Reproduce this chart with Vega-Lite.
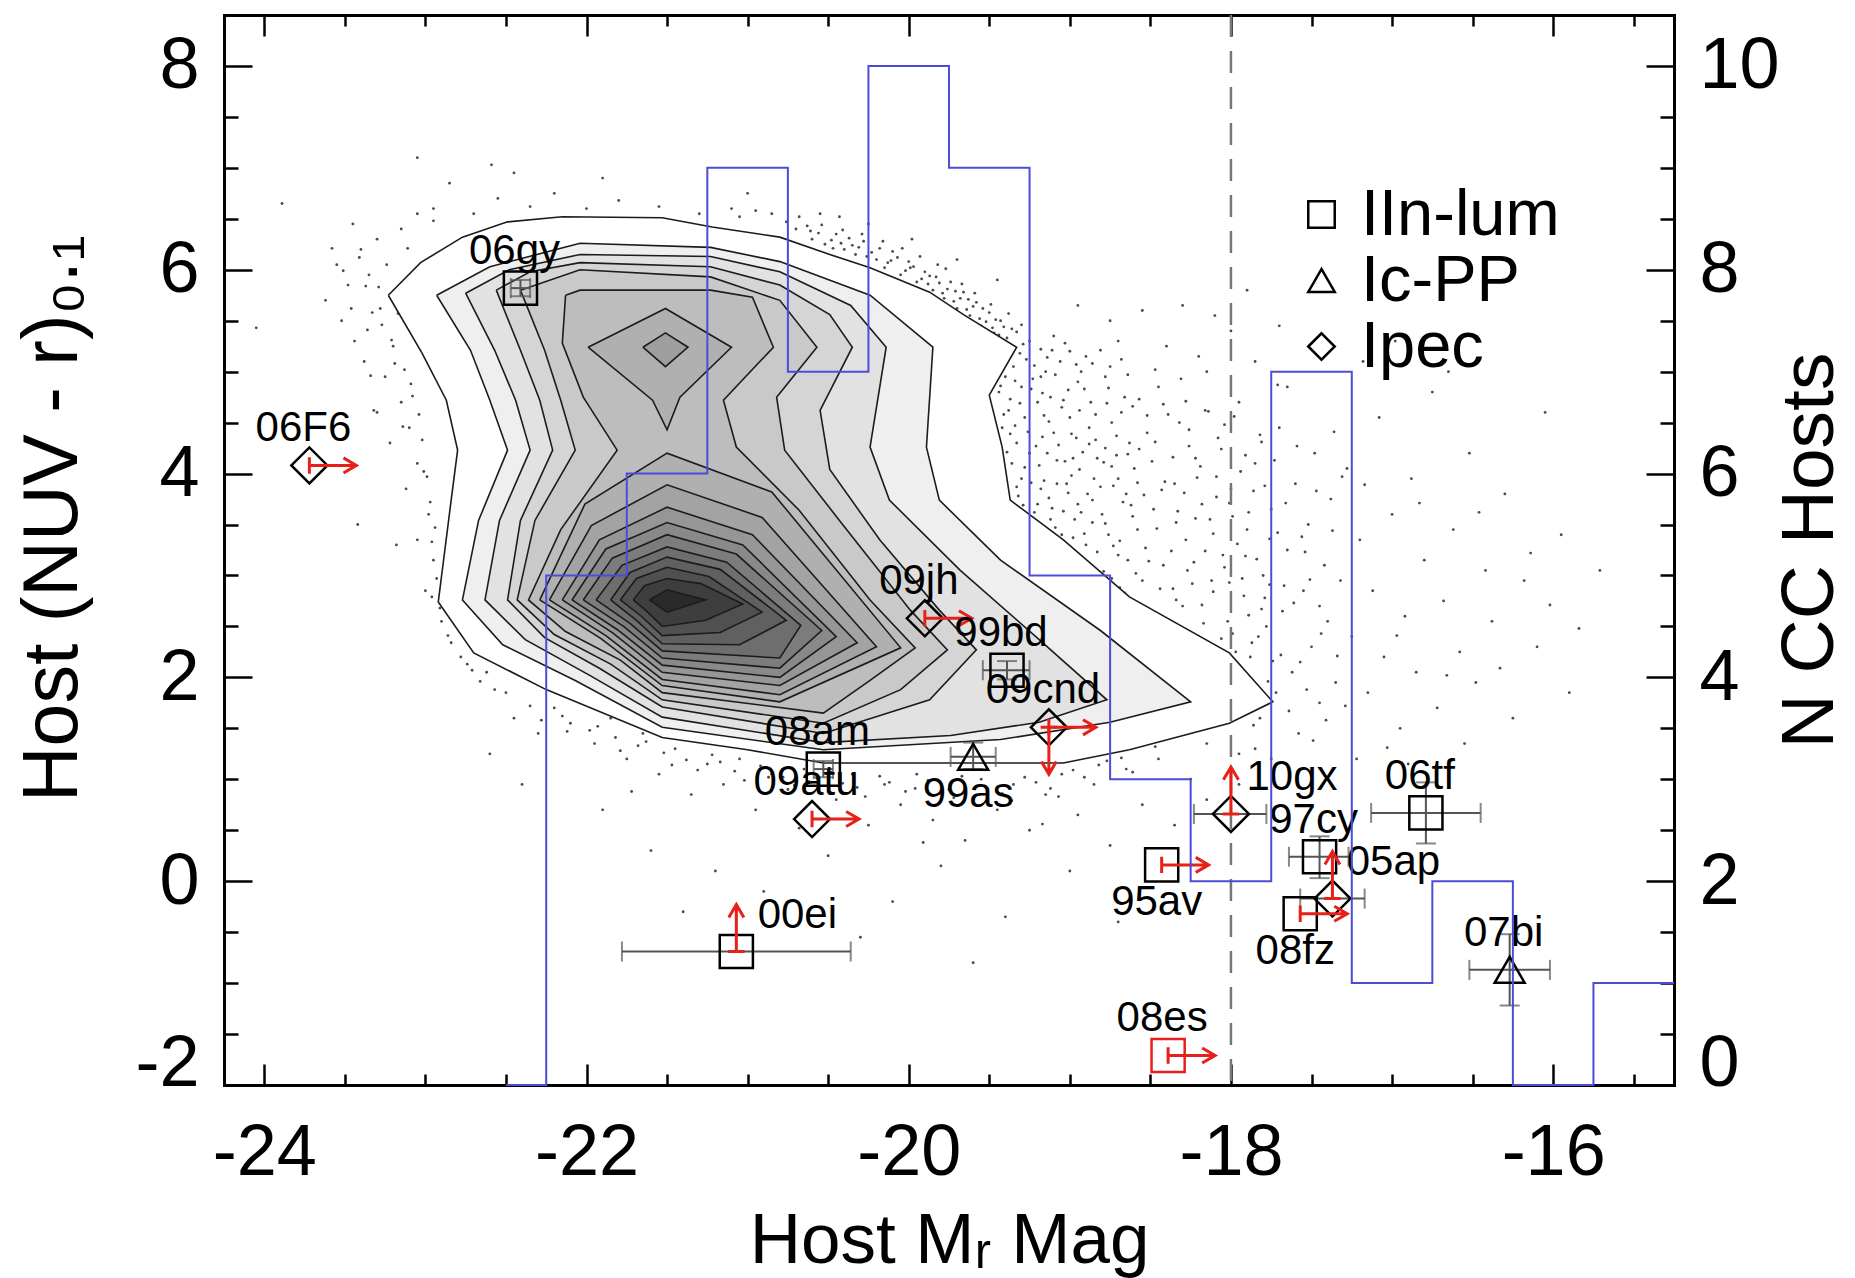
{
  "$schema": "https://vega.github.io/schema/vega-lite/v6.json",
  "width": 1450,
  "height": 1070,
  "autosize": {"type": "none"},
  "padding": {"left": 224, "top": 15, "right": 181, "bottom": 193},
  "background": "white",
  "config": {
    "font": "Liberation Sans",
    "view": {"stroke": null},
    "axis": {"grid": false, "domainColor": "black", "domainWidth": 3, "domainCap": "square", "tickColor": "black", "tickWidth": 2.5, "labelColor": "black", "labelFont": "Liberation Sans", "labelFontSize": 72, "titleColor": "black", "titleFont": "Liberation Sans", "titleFontSize": 77, "titleFontWeight": "normal", "labelOverlap": false, "zindex": 1}
  },
  "datasets": {
    "hist": [
      {"mag": -22.5, "n": 0}, {"mag": -22.25, "n": 5}, {"mag": -21.75, "n": 6}, {"mag": -21.25, "n": 9},
      {"mag": -20.75, "n": 7}, {"mag": -20.25, "n": 10}, {"mag": -19.75, "n": 9}, {"mag": -19.25, "n": 5},
      {"mag": -18.75, "n": 3}, {"mag": -18.25, "n": 2}, {"mag": -17.75, "n": 7}, {"mag": -17.25, "n": 1},
      {"mag": -16.75, "n": 2}, {"mag": -16.25, "n": 0}, {"mag": -15.75, "n": 1}, {"mag": -15.25, "n": 1}
    ],
    "sn": [
      {"sn": "06gy", "type": "IIn-lum", "m": -22.41, "c": 5.82, "pos": "above", "xlo": -22.47, "xhi": -22.35, "ylo": 5.74, "yhi": 5.90},
      {"sn": "06F6", "type": "Ipec", "m": -23.72, "c": 4.08, "pos": "above", "limx": "right"},
      {"sn": "09jh", "type": "Ipec", "m": -19.90, "c": 2.58, "pos": "above", "limx": "right"},
      {"sn": "99bd", "type": "IIn-lum", "m": -19.39, "c": 2.07, "pos": "above", "xlo": -19.54, "xhi": -19.25, "ylo": 1.98, "yhi": 2.16},
      {"sn": "09cnd", "type": "Ipec", "m": -19.13, "c": 1.51, "pos": "above", "limx": "right", "limy": "down"},
      {"sn": "99as", "type": "Ic-PP", "m": -19.60, "c": 1.22, "pos": "below", "xlo": -19.74, "xhi": -19.46, "ylo": 1.10, "yhi": 1.36},
      {"sn": "08am", "type": "IIn-lum", "m": -20.53, "c": 1.10, "pos": "above", "xlo": -20.59, "xhi": -20.47, "ylo": 1.02, "yhi": 1.18},
      {"sn": "09atu", "type": "Ipec", "m": -20.60, "c": 0.61, "pos": "above", "limx": "right"},
      {"sn": "00ei", "type": "IIn-lum", "m": -21.07, "c": -0.69, "pos": "aboveright", "xlo": -21.78, "xhi": -20.36, "limy": "up"},
      {"sn": "10gx", "type": "Ipec", "m": -18.00, "c": 0.66, "pos": "aboveright", "xlo": -18.23, "xhi": -17.78, "limy": "up"},
      {"sn": "97cy", "type": "IIn-lum", "m": -17.45, "c": 0.24, "pos": "above", "xlo": -17.64, "xhi": -17.27, "ylo": 0.03, "yhi": 0.44},
      {"sn": "05ap", "type": "Ipec", "m": -17.37, "c": -0.17, "pos": "aboveright", "xlo": -17.57, "xhi": -17.17, "limy": "up"},
      {"sn": "95av", "type": "IIn-lum", "m": -18.43, "c": 0.16, "pos": "below", "limx": "right"},
      {"sn": "08fz", "type": "IIn-lum", "m": -17.57, "c": -0.32, "pos": "below", "limx": "right"},
      {"sn": "06tf", "type": "IIn-lum", "m": -16.79, "c": 0.67, "pos": "above", "xlo": -17.13, "xhi": -16.45, "ylo": 0.37, "yhi": 0.97},
      {"sn": "07bi", "type": "Ic-PP", "m": -16.27, "c": -0.87, "pos": "above", "xlo": -16.52, "xhi": -16.02, "ylo": -1.22, "yhi": -0.52},
      {"sn": "08es", "type": "IIn-lum", "m": -18.39, "c": -1.71, "pos": "above", "limx": "right"}
    ],
    "contours": [
      {"lev":1,"k":0,"m":-23.23,"c":5.75},{"lev":1,"k":1,"m":-23.03,"c":6.07},{"lev":1,"k":2,"m":-22.77,"c":6.32},{"lev":1,"k":3,"m":-22.49,"c":6.47},{"lev":1,"k":4,"m":-22.15,"c":6.52},{"lev":1,"k":5,"m":-21.53,"c":6.51},{"lev":1,"k":6,"m":-21.22,"c":6.42},{"lev":1,"k":7,"m":-20.80,"c":6.32},{"lev":1,"k":8,"m":-20.49,"c":6.15},{"lev":1,"k":9,"m":-20.24,"c":6.02},{"lev":1,"k":10,"m":-19.87,"c":5.78},{"lev":1,"k":11,"m":-19.66,"c":5.56},{"lev":1,"k":12,"m":-19.33,"c":5.24},{"lev":1,"k":13,"m":-19.50,"c":4.77},{"lev":1,"k":14,"m":-19.42,"c":4.26},{"lev":1,"k":15,"m":-19.37,"c":3.74},{"lev":1,"k":16,"m":-19.04,"c":3.35},{"lev":1,"k":17,"m":-18.63,"c":2.79},{"lev":1,"k":18,"m":-18.01,"c":2.24},{"lev":1,"k":19,"m":-17.74,"c":1.76},{"lev":1,"k":20,"m":-18.01,"c":1.55},{"lev":1,"k":21,"m":-18.63,"c":1.29},{"lev":1,"k":22,"m":-19.04,"c":1.16},{"lev":1,"k":23,"m":-19.74,"c":1.16},{"lev":1,"k":24,"m":-20.53,"c":1.16},{"lev":1,"k":25,"m":-21.00,"c":1.29},{"lev":1,"k":26,"m":-21.53,"c":1.41},{"lev":1,"k":27,"m":-22.25,"c":1.88},{"lev":1,"k":28,"m":-22.70,"c":2.24},{"lev":1,"k":29,"m":-22.92,"c":2.74},{"lev":1,"k":30,"m":-22.84,"c":3.74},{"lev":1,"k":31,"m":-22.80,"c":4.23},{"lev":1,"k":32,"m":-22.87,"c":4.72},{"lev":1,"k":33,"m":-23.02,"c":5.18},{"lev":1,"k":34,"m":-23.23,"c":5.75},
      {"lev":2,"k":0,"m":-22.93,"c":5.75},{"lev":2,"k":1,"m":-22.60,"c":6.03},{"lev":2,"k":2,"m":-22.04,"c":6.26},{"lev":2,"k":3,"m":-21.23,"c":6.22},{"lev":2,"k":4,"m":-20.80,"c":6.08},{"lev":2,"k":5,"m":-20.24,"c":5.75},{"lev":2,"k":6,"m":-19.85,"c":5.24},{"lev":2,"k":7,"m":-19.89,"c":4.26},{"lev":2,"k":8,"m":-19.81,"c":3.74},{"lev":2,"k":9,"m":-19.43,"c":3.15},{"lev":2,"k":10,"m":-18.81,"c":2.46},{"lev":2,"k":11,"m":-18.25,"c":1.76},{"lev":2,"k":12,"m":-18.75,"c":1.56},{"lev":2,"k":13,"m":-19.43,"c":1.39},{"lev":2,"k":14,"m":-20.53,"c":1.29},{"lev":2,"k":15,"m":-21.53,"c":1.51},{"lev":2,"k":16,"m":-22.07,"c":1.97},{"lev":2,"k":17,"m":-22.52,"c":2.32},{"lev":2,"k":18,"m":-22.77,"c":2.76},{"lev":2,"k":19,"m":-22.67,"c":3.54},{"lev":2,"k":20,"m":-22.49,"c":4.23},{"lev":2,"k":21,"m":-22.60,"c":4.72},{"lev":2,"k":22,"m":-22.72,"c":5.21},{"lev":2,"k":23,"m":-22.93,"c":5.75},
      {"lev":3,"k":0,"m":-22.75,"c":5.77},{"lev":3,"k":1,"m":-22.48,"c":6.00},{"lev":3,"k":2,"m":-22.04,"c":6.15},{"lev":3,"k":3,"m":-21.23,"c":6.13},{"lev":3,"k":4,"m":-20.80,"c":5.98},{"lev":3,"k":5,"m":-20.36,"c":5.65},{"lev":3,"k":6,"m":-20.14,"c":5.24},{"lev":3,"k":7,"m":-20.24,"c":4.26},{"lev":3,"k":8,"m":-20.12,"c":3.74},{"lev":3,"k":9,"m":-19.68,"c":3.05},{"lev":3,"k":10,"m":-19.19,"c":2.37},{"lev":3,"k":11,"m":-18.77,"c":1.78},{"lev":3,"k":12,"m":-19.19,"c":1.56},{"lev":3,"k":13,"m":-19.74,"c":1.43},{"lev":3,"k":14,"m":-20.53,"c":1.36},{"lev":3,"k":15,"m":-21.53,"c":1.61},{"lev":3,"k":16,"m":-21.98,"c":2.02},{"lev":3,"k":17,"m":-22.38,"c":2.37},{"lev":3,"k":18,"m":-22.63,"c":2.76},{"lev":3,"k":19,"m":-22.54,"c":3.54},{"lev":3,"k":20,"m":-22.35,"c":4.23},{"lev":3,"k":21,"m":-22.44,"c":4.72},{"lev":3,"k":22,"m":-22.57,"c":5.21},{"lev":3,"k":23,"m":-22.75,"c":5.77},
      {"lev":4,"k":0,"m":-22.56,"c":5.80},{"lev":4,"k":1,"m":-22.35,"c":5.98},{"lev":4,"k":2,"m":-22.04,"c":6.07},{"lev":4,"k":3,"m":-21.23,"c":6.03},{"lev":4,"k":4,"m":-20.80,"c":5.85},{"lev":4,"k":5,"m":-20.49,"c":5.56},{"lev":4,"k":6,"m":-20.35,"c":5.24},{"lev":4,"k":7,"m":-20.55,"c":4.62},{"lev":4,"k":8,"m":-20.49,"c":4.04},{"lev":4,"k":9,"m":-20.18,"c":3.35},{"lev":4,"k":10,"m":-19.81,"c":2.66},{"lev":4,"k":11,"m":-19.58,"c":2.27},{"lev":4,"k":12,"m":-19.87,"c":1.78},{"lev":4,"k":13,"m":-20.53,"c":1.45},{"lev":4,"k":14,"m":-21.53,"c":1.71},{"lev":4,"k":15,"m":-21.92,"c":2.09},{"lev":4,"k":16,"m":-22.26,"c":2.39},{"lev":4,"k":17,"m":-22.49,"c":2.76},{"lev":4,"k":18,"m":-22.41,"c":3.54},{"lev":4,"k":19,"m":-22.21,"c":4.23},{"lev":4,"k":20,"m":-22.29,"c":4.72},{"lev":4,"k":21,"m":-22.41,"c":5.21},{"lev":4,"k":22,"m":-22.56,"c":5.80},
      {"lev":5,"k":0,"m":-22.41,"c":5.80},{"lev":5,"k":1,"m":-22.04,"c":6.00},{"lev":5,"k":2,"m":-21.23,"c":5.93},{"lev":5,"k":3,"m":-20.80,"c":5.70},{"lev":5,"k":4,"m":-20.57,"c":5.24},{"lev":5,"k":5,"m":-20.82,"c":4.75},{"lev":5,"k":6,"m":-20.77,"c":4.23},{"lev":5,"k":7,"m":-20.43,"c":3.54},{"lev":5,"k":8,"m":-19.99,"c":2.66},{"lev":5,"k":9,"m":-19.76,"c":2.27},{"lev":5,"k":10,"m":-20.05,"c":1.88},{"lev":5,"k":11,"m":-20.53,"c":1.55},{"lev":5,"k":12,"m":-21.53,"c":1.78},{"lev":5,"k":13,"m":-21.85,"c":2.13},{"lev":5,"k":14,"m":-22.20,"c":2.42},{"lev":5,"k":15,"m":-22.43,"c":2.76},{"lev":5,"k":16,"m":-22.32,"c":3.54},{"lev":5,"k":17,"m":-22.07,"c":4.23},{"lev":5,"k":18,"m":-22.16,"c":4.72},{"lev":5,"k":19,"m":-22.26,"c":5.21},{"lev":5,"k":20,"m":-22.41,"c":5.80},
      {"lev":6,"k":0,"m":-22.13,"c":5.75},{"lev":6,"k":1,"m":-22.04,"c":5.80},{"lev":6,"k":2,"m":-21.23,"c":5.80},{"lev":6,"k":3,"m":-20.97,"c":5.73},{"lev":6,"k":4,"m":-20.84,"c":5.24},{"lev":6,"k":5,"m":-21.15,"c":4.72},{"lev":6,"k":6,"m":-21.07,"c":4.26},{"lev":6,"k":7,"m":-20.68,"c":3.64},{"lev":6,"k":8,"m":-20.24,"c":2.76},{"lev":6,"k":9,"m":-19.96,"c":2.29},{"lev":6,"k":10,"m":-20.24,"c":1.97},{"lev":6,"k":11,"m":-20.53,"c":1.65},{"lev":6,"k":12,"m":-21.53,"c":1.85},{"lev":6,"k":13,"m":-21.79,"c":2.17},{"lev":6,"k":14,"m":-22.13,"c":2.45},{"lev":6,"k":15,"m":-22.36,"c":2.76},{"lev":6,"k":16,"m":-22.16,"c":3.45},{"lev":6,"k":17,"m":-21.81,"c":4.23},{"lev":6,"k":18,"m":-22.02,"c":4.75},{"lev":6,"k":19,"m":-22.15,"c":5.28},{"lev":6,"k":20,"m":-22.13,"c":5.75},
      {"lev":7,"k":0,"m":-22.29,"c":2.76},{"lev":7,"k":1,"m":-22.01,"c":3.70},{"lev":7,"k":2,"m":-21.50,"c":4.20},{"lev":7,"k":3,"m":-20.85,"c":3.82},{"lev":7,"k":4,"m":-20.05,"c":2.29},{"lev":7,"k":5,"m":-20.80,"c":1.76},{"lev":7,"k":6,"m":-21.53,"c":1.92},{"lev":7,"k":7,"m":-21.91,"c":2.38},{"lev":7,"k":8,"m":-22.29,"c":2.76},
      {"lev":8,"k":0,"m":-22.23,"c":2.76},{"lev":8,"k":1,"m":-21.97,"c":3.49},{"lev":8,"k":2,"m":-21.50,"c":3.89},{"lev":8,"k":3,"m":-20.91,"c":3.57},{"lev":8,"k":4,"m":-20.20,"c":2.30},{"lev":8,"k":5,"m":-20.80,"c":1.83},{"lev":8,"k":6,"m":-21.53,"c":1.98},{"lev":8,"k":7,"m":-21.88,"c":2.41},{"lev":8,"k":8,"m":-22.23,"c":2.76},
      {"lev":9,"k":0,"m":-22.15,"c":2.76},{"lev":9,"k":1,"m":-21.92,"c":3.35},{"lev":9,"k":2,"m":-21.50,"c":3.67},{"lev":9,"k":3,"m":-20.97,"c":3.40},{"lev":9,"k":4,"m":-20.32,"c":2.34},{"lev":9,"k":5,"m":-20.80,"c":1.92},{"lev":9,"k":6,"m":-21.53,"c":2.05},{"lev":9,"k":7,"m":-21.84,"c":2.44},{"lev":9,"k":8,"m":-22.15,"c":2.76},
      {"lev":10,"k":0,"m":-22.09,"c":2.76},{"lev":10,"k":1,"m":-21.88,"c":3.26},{"lev":10,"k":2,"m":-21.50,"c":3.52},{"lev":10,"k":3,"m":-21.03,"c":3.30},{"lev":10,"k":4,"m":-20.45,"c":2.40},{"lev":10,"k":5,"m":-20.80,"c":2.00},{"lev":10,"k":6,"m":-21.53,"c":2.12},{"lev":10,"k":7,"m":-21.81,"c":2.47},{"lev":10,"k":8,"m":-22.09,"c":2.76},
      {"lev":11,"k":0,"m":-22.02,"c":2.76},{"lev":11,"k":1,"m":-21.84,"c":3.17},{"lev":11,"k":2,"m":-21.50,"c":3.40},{"lev":11,"k":3,"m":-21.07,"c":3.21},{"lev":11,"k":4,"m":-20.54,"c":2.46},{"lev":11,"k":5,"m":-20.80,"c":2.09},{"lev":11,"k":6,"m":-21.53,"c":2.19},{"lev":11,"k":7,"m":-21.77,"c":2.50},{"lev":11,"k":8,"m":-22.02,"c":2.76},
      {"lev":12,"k":0,"m":-21.94,"c":2.76},{"lev":12,"k":1,"m":-21.78,"c":3.10},{"lev":12,"k":2,"m":-21.50,"c":3.28},{"lev":12,"k":3,"m":-21.13,"c":3.13},{"lev":12,"k":4,"m":-20.67,"c":2.51},{"lev":12,"k":5,"m":-20.80,"c":2.19},{"lev":12,"k":6,"m":-21.53,"c":2.26},{"lev":12,"k":7,"m":-21.73,"c":2.53},{"lev":12,"k":8,"m":-21.94,"c":2.76},
      {"lev":13,"k":0,"m":-21.85,"c":2.76},{"lev":13,"k":1,"m":-21.73,"c":3.03},{"lev":13,"k":2,"m":-21.50,"c":3.18},{"lev":13,"k":3,"m":-21.17,"c":3.06},{"lev":13,"k":4,"m":-20.76,"c":2.56},{"lev":13,"k":5,"m":-21.05,"c":2.32},{"lev":13,"k":6,"m":-21.53,"c":2.33},{"lev":13,"k":7,"m":-21.69,"c":2.56},{"lev":13,"k":8,"m":-21.85,"c":2.76},
      {"lev":14,"k":0,"m":-21.79,"c":2.76},{"lev":14,"k":1,"m":-21.69,"c":2.97},{"lev":14,"k":2,"m":-21.50,"c":3.08},{"lev":14,"k":3,"m":-21.24,"c":2.99},{"lev":14,"k":4,"m":-20.91,"c":2.64},{"lev":14,"k":5,"m":-21.17,"c":2.44},{"lev":14,"k":6,"m":-21.53,"c":2.41},{"lev":14,"k":7,"m":-21.66,"c":2.60},{"lev":14,"k":8,"m":-21.79,"c":2.76},
      {"lev":15,"k":0,"m":-21.71,"c":2.76},{"lev":15,"k":1,"m":-21.64,"c":2.90},{"lev":15,"k":2,"m":-21.50,"c":2.97},{"lev":15,"k":3,"m":-21.29,"c":2.92},{"lev":15,"k":4,"m":-21.03,"c":2.72},{"lev":15,"k":5,"m":-21.26,"c":2.56},{"lev":15,"k":6,"m":-21.53,"c":2.50},{"lev":15,"k":7,"m":-21.62,"c":2.64},{"lev":15,"k":8,"m":-21.71,"c":2.76},
      {"lev":16,"k":0,"m":-21.61,"c":2.76},{"lev":16,"k":1,"m":-21.50,"c":2.86},{"lev":16,"k":2,"m":-21.26,"c":2.76},{"lev":16,"k":3,"m":-21.50,"c":2.64},{"lev":16,"k":4,"m":-21.61,"c":2.76},
      {"lev":17,"k":0,"m":-21.99,"c":5.24},{"lev":17,"k":1,"m":-21.51,"c":5.62},{"lev":17,"k":2,"m":-21.10,"c":5.24},{"lev":17,"k":3,"m":-21.42,"c":4.75},{"lev":17,"k":4,"m":-21.50,"c":4.43},{"lev":17,"k":5,"m":-21.59,"c":4.72},{"lev":17,"k":6,"m":-21.99,"c":5.24},
      {"lev":18,"k":0,"m":-21.65,"c":5.24},{"lev":18,"k":1,"m":-21.51,"c":5.38},{"lev":18,"k":2,"m":-21.37,"c":5.24},{"lev":18,"k":3,"m":-21.51,"c":5.05},{"lev":18,"k":4,"m":-21.65,"c":5.24}
    ],
    "dots": [
      {"m":-23.89,"c":6.65},{"m":-24.05,"c":5.43},{"m":-23.55,"c":6.05},{"m":-23.48,"c":5.85},{"m":-23.62,"c":5.70},{"m":-23.40,"c":6.20},{"m":-23.35,"c":5.95},{"m":-23.30,"c":6.30},{"m":-23.52,"c":5.50},{"m":-23.44,"c":5.30},{"m":-23.38,"c":5.10},{"m":-23.25,"c":4.95},{"m":-23.20,"c":5.25},{"m":-23.15,"c":4.70},{"m":-23.10,"c":4.45},{"m":-23.22,"c":4.30},{"m":-23.05,"c":4.10},{"m":-23.12,"c":3.85},{"m":-22.98,"c":3.60},{"m":-23.05,"c":3.35},{"m":-22.95,"c":3.15},{"m":-23.00,"c":2.85},{"m":-23.18,"c":3.30},{"m":-23.30,"c":4.60},{"m":-23.42,"c":3.50},{"m":-22.90,"c":2.55},{"m":-22.78,"c":2.20},{"m":-22.62,"c":2.05},{"m":-22.50,"c":1.85},{"m":-23.45,"c":6.45},{"m":-23.15,"c":6.40},{"m":-23.05,"c":6.55},{"m":-22.95,"c":6.48},{"m":-22.59,"c":7.03},{"m":-23.14,"c":4.46},{"m":-23.32,"c":4.62},
      {"m":-23.28,"c":5.62},{"m":-23.36,"c":5.41},{"m":-23.19,"c":5.08},{"m":-23.09,"c":4.88},{"m":-23.01,"c":4.02},{"m":-22.96,"c":3.33},{"m":-22.93,"c":2.97},{"m":-22.86,"c":2.41},{"m":-22.71,"c":2.07},{"m":-23.58,"c":6.21},
      {"m":-23.41,"c":6.12},{"m":-23.37,"c":5.84},{"m":-23.33,"c":5.58},{"m":-23.29,"c":5.83},{"m":-23.27,"c":5.46},{"m":-23.24,"c":6.05},{"m":-23.21,"c":5.31},{"m":-23.17,"c":5.57},{"m":-23.13,"c":5.02},{"m":-23.11,"c":6.21},{"m":-23.08,"c":4.76},{"m":-23.04,"c":4.58},{"m":-23.02,"c":4.33},{"m":-22.99,"c":3.97},{"m":-22.97,"c":3.72},{"m":-22.94,"c":3.47},{"m":-22.96,"c":2.79},{"m":-22.91,"c":2.68},{"m":-22.84,"c":2.34},{"m":-22.74,"c":2.13},{"m":-22.66,"c":1.96},{"m":-22.57,"c":1.88},{"m":-23.51,"c":5.99},{"m":-23.46,"c":5.62},{"m":-23.34,"c":4.96},
      {"m":-22.95,"c":6.60},{"m":-22.70,"c":6.55},{"m":-22.55,"c":6.70},{"m":-22.35,"c":6.62},{"m":-22.20,"c":6.75},{"m":-22.00,"c":6.60},{"m":-21.80,"c":6.68},{"m":-21.55,"c":6.62},{"m":-21.30,"c":6.55},{"m":-21.05,"c":6.52},{"m":-22.85,"c":6.85},{"m":-21.90,"c":6.90},{"m":-21.00,"c":6.75},{"m":-22.45,"c":6.95},{"m":-23.05,"c":7.10},
      {"m":-20.70,"c":6.40},{"m":-20.60,"c":6.30},{"m":-20.52,"c":6.25},{"m":-20.45,"c":6.35},{"m":-20.40,"c":6.20},{"m":-20.33,"c":6.15},{"m":-20.28,"c":6.28},{"m":-20.20,"c":6.10},{"m":-20.15,"c":6.02},{"m":-20.10,"c":6.18},{"m":-20.05,"c":5.95},{"m":-20.00,"c":6.08},{"m":-19.95,"c":5.88},{"m":-19.90,"c":5.98},{"m":-19.85,"c":5.80},{"m":-19.82,"c":6.05},{"m":-19.78,"c":5.72},{"m":-19.74,"c":5.88},{"m":-19.70,"c":5.62},{"m":-19.66,"c":5.78},{"m":-19.62,"c":5.55},{"m":-19.58,"c":5.68},{"m":-19.55,"c":5.45},{"m":-19.50,"c":5.58},{"m":-19.47,"c":5.38},{"m":-19.43,"c":5.50},{"m":-19.40,"c":5.30},{"m":-19.36,"c":5.42},{"m":-20.55,"c":6.55},{"m":-20.25,"c":6.45},{"m":-19.98,"c":6.30},{"m":-19.70,"c":6.10},{"m":-19.45,"c":5.90},{"m":-20.85,"c":6.55},{"m":-21.10,"c":6.60},
      {"m":-20.63,"c":6.43},{"m":-20.56,"c":6.36},{"m":-20.48,"c":6.29},{"m":-20.42,"c":6.26},{"m":-20.37,"c":6.31},{"m":-20.31,"c":6.22},{"m":-20.26,"c":6.13},{"m":-20.18,"c":6.21},{"m":-20.13,"c":6.07},{"m":-20.07,"c":6.12},{"m":-20.02,"c":5.99},{"m":-19.97,"c":6.03},{"m":-19.92,"c":5.91},{"m":-19.88,"c":5.86},{"m":-19.83,"c":5.93},{"m":-19.79,"c":5.77},{"m":-19.76,"c":5.81},{"m":-19.72,"c":5.69},{"m":-19.68,"c":5.72},{"m":-19.64,"c":5.61},{"m":-19.60,"c":5.64},{"m":-19.56,"c":5.52},{"m":-19.52,"c":5.49},{"m":-19.48,"c":5.43},{"m":-19.44,"c":5.36},
      {"m":-20.76,"c":6.47},{"m":-20.68,"c":6.52},{"m":-20.61,"c":6.38},{"m":-20.54,"c":6.44},{"m":-20.47,"c":6.21},{"m":-20.41,"c":6.39},{"m":-20.35,"c":6.24},{"m":-20.29,"c":6.35},{"m":-20.23,"c":6.17},{"m":-20.16,"c":6.28},{"m":-20.11,"c":6.09},{"m":-20.04,"c":6.21},{"m":-19.99,"c":6.02},{"m":-19.93,"c":6.13},{"m":-19.87,"c":5.94},{"m":-19.81,"c":5.87},{"m":-19.77,"c":6.01},{"m":-19.71,"c":5.79},{"m":-19.67,"c":5.86},{"m":-19.63,"c":5.71},{"m":-19.59,"c":5.77},{"m":-19.54,"c":5.62},{"m":-19.49,"c":5.66},{"m":-19.46,"c":5.51},{"m":-19.41,"c":5.44},{"m":-19.38,"c":5.57},{"m":-19.33,"c":5.39},{"m":-19.30,"c":5.46},{"m":-20.95,"c":6.58},{"m":-20.43,"c":6.52},
      {"m":-19.45,"c":5.15},{"m":-19.40,"c":4.95},{"m":-19.35,"c":5.05},{"m":-19.44,"c":4.80},{"m":-19.38,"c":4.62},{"m":-19.30,"c":4.85},{"m":-19.42,"c":4.45},{"m":-19.33,"c":4.30},{"m":-19.28,"c":4.55},{"m":-19.36,"c":4.10},{"m":-19.30,"c":3.95},{"m":-19.25,"c":4.20},{"m":-19.32,"c":3.78},{"m":-19.22,"c":3.62},{"m":-19.27,"c":3.45},{"m":-19.18,"c":3.85},{"m":-19.15,"c":3.30},{"m":-19.12,"c":3.55},{"m":-19.08,"c":3.15},{"m":-19.05,"c":3.40},{"m":-19.20,"c":4.70},{"m":-19.15,"c":5.00},{"m":-19.10,"c":4.40},{"m":-19.05,"c":4.65},{"m":-19.02,"c":3.90},{"m":-18.98,"c":4.15},{"m":-18.95,"c":3.70},{"m":-18.92,"c":2.95},{"m":-18.90,"c":3.30},{"m":-18.95,"c":4.90},{"m":-19.00,"c":5.20},{"m":-18.88,"c":4.45},{"m":-18.85,"c":3.95},{"m":-18.82,"c":2.75},{"m":-18.80,"c":3.60},{"m":-18.78,"c":4.25},{"m":-18.75,"c":5.05},{"m":-18.72,"c":2.60},{"m":-18.70,"c":3.20},{"m":-18.68,"c":4.60},{"m":-18.65,"c":3.80},{"m":-18.62,"c":2.45},{"m":-18.60,"c":4.05},{"m":-18.58,"c":3.45},{"m":-18.55,"c":2.95},{"m":-18.52,"c":4.40},{"m":-18.50,"c":2.30},{"m":-18.48,"c":3.65},{"m":-18.45,"c":4.85},{"m":-18.42,"c":3.10},{"m":-19.25,"c":5.30},{"m":-19.10,"c":5.35},{"m":-18.90,"c":5.15},{"m":-18.70,"c":5.30},
      {"m":-19.41,"c":5.07},{"m":-19.37,"c":4.73},{"m":-19.31,"c":5.18},{"m":-19.26,"c":4.41},{"m":-19.23,"c":4.93},{"m":-19.19,"c":4.08},{"m":-19.16,"c":4.57},{"m":-19.13,"c":3.76},{"m":-19.11,"c":5.21},{"m":-19.07,"c":4.28},{"m":-19.04,"c":3.63},{"m":-19.01,"c":4.82},{"m":-18.99,"c":3.98},{"m":-18.94,"c":4.62},{"m":-18.91,"c":3.41},{"m":-18.86,"c":5.08},{"m":-18.84,"c":4.33},{"m":-18.81,"c":3.87},{"m":-18.77,"c":4.69},{"m":-18.73,"c":3.29},{"m":-18.71,"c":4.18},{"m":-18.67,"c":3.72},{"m":-18.64,"c":4.97},{"m":-18.61,"c":3.58},{"m":-19.34,"c":4.47},{"m":-19.29,"c":3.69},{"m":-19.21,"c":3.33},{"m":-19.17,"c":4.36},{"m":-19.09,"c":3.47},{"m":-19.03,"c":4.12},{"m":-18.97,"c":3.15},{"m":-18.92,"c":4.21},{"m":-18.86,"c":3.52},{"m":-18.79,"c":3.04},{"m":-18.74,"c":4.07},{"m":-18.69,"c":2.88},{"m":-19.39,"c":4.21},{"m":-19.35,"c":3.58},{"m":-19.24,"c":3.91},{"m":-19.18,"c":4.95},
      {"m":-19.12,"c":4.75},{"m":-19.06,"c":5.10},{"m":-19.00,"c":4.55},{"m":-18.96,"c":4.35},{"m":-18.93,"c":5.00},{"m":-18.87,"c":4.70},{"m":-18.83,"c":4.15},{"m":-18.78,"c":4.95},{"m":-18.74,"c":4.50},{"m":-18.70,"c":3.95},{"m":-18.66,"c":4.75},{"m":-18.63,"c":4.30},{"m":-19.14,"c":4.20},{"m":-19.08,"c":3.90},{"m":-19.20,"c":3.70},{"m":-18.97,"c":3.55},{"m":-18.89,"c":3.80},{"m":-18.76,"c":3.40},{"m":-18.64,"c":3.15},
      {"m":-19.46,"c":5.24},{"m":-19.43,"c":4.86},{"m":-19.41,"c":4.58},{"m":-19.39,"c":5.33},{"m":-19.37,"c":4.39},{"m":-19.34,"c":4.91},{"m":-19.33,"c":3.87},{"m":-19.31,"c":4.69},{"m":-19.29,"c":5.27},{"m":-19.28,"c":4.06},{"m":-19.26,"c":3.56},{"m":-19.24,"c":4.83},{"m":-19.22,"c":5.06},{"m":-19.21,"c":4.27},{"m":-19.19,"c":3.48},{"m":-19.17,"c":4.79},{"m":-19.16,"c":3.93},{"m":-19.14,"c":5.14},{"m":-19.13,"c":4.51},{"m":-19.11,"c":3.66},{"m":-19.09,"c":4.97},{"m":-19.08,"c":4.13},{"m":-19.06,"c":3.28},{"m":-19.04,"c":4.72},{"m":-19.03,"c":5.28},{"m":-19.01,"c":3.81},{"m":-18.99,"c":4.39},{"m":-18.98,"c":3.37},{"m":-18.96,"c":5.07},{"m":-18.94,"c":4.04},{"m":-18.93,"c":3.62},{"m":-18.91,"c":4.83},{"m":-18.89,"c":3.09},{"m":-18.88,"c":4.29},{"m":-18.86,"c":3.74},{"m":-18.84,"c":4.58},{"m":-18.83,"c":3.23},{"m":-18.81,"c":5.21},{"m":-18.79,"c":4.11},{"m":-18.78,"c":3.51},{"m":-18.76,"c":4.84},{"m":-18.74,"c":2.97},{"m":-18.73,"c":3.88},{"m":-18.71,"c":4.37},{"m":-18.69,"c":3.34},{"m":-18.68,"c":5.12},{"m":-18.66,"c":2.83},{"m":-18.64,"c":4.19},{"m":-18.62,"c":3.69},{"m":-18.61,"c":4.66},{"m":-18.59,"c":3.02},{"m":-18.57,"c":4.24},{"m":-18.56,"c":2.71},{"m":-18.54,"c":3.79},{"m":-18.52,"c":4.57},{"m":-18.51,"c":3.14},{"m":-18.49,"c":2.58},{"m":-18.47,"c":4.31},{"m":-18.46,"c":3.46},{"m":-18.44,"c":2.87},{"m":-18.42,"c":4.68},{"m":-18.41,"c":3.92},{"m":-18.39,"c":2.52},{"m":-18.37,"c":3.24},{"m":-18.36,"c":4.16},{"m":-18.34,"c":2.76},{"m":-18.33,"c":3.63},{"m":-18.31,"c":2.46},{"m":-19.27,"c":5.12},{"m":-19.18,"c":5.22},
      {"m":-18.57,"c":4.73},{"m":-18.53,"c":3.27},{"m":-18.49,"c":4.12},{"m":-18.46,"c":2.62},{"m":-18.43,"c":3.84},{"m":-18.39,"c":4.58},{"m":-18.36,"c":2.87},{"m":-18.34,"c":3.52},{"m":-18.31,"c":4.93},{"m":-18.29,"c":2.23},{"m":-18.26,"c":4.27},{"m":-18.23,"c":3.13},{"m":-18.21,"c":3.96},{"m":-18.18,"c":2.71},{"m":-18.16,"c":4.62},{"m":-18.14,"c":2.09},{"m":-18.11,"c":3.41},{"m":-18.09,"c":3.77},{"m":-18.06,"c":2.38},{"m":-18.04,"c":4.48},{"m":-18.01,"c":2.93},{"m":-17.99,"c":3.58},{"m":-17.96,"c":2.12},{"m":-17.94,"c":4.02},{"m":-17.91,"c":3.19},{"m":-17.89,"c":2.61},{"m":-17.86,"c":3.83},{"m":-17.84,"c":1.92},{"m":-17.81,"c":4.31},{"m":-17.79,"c":2.78},{"m":-17.76,"c":3.36},{"m":-17.74,"c":2.16},{"m":-18.52,"c":2.18},{"m":-18.41,"c":2.41},{"m":-18.24,"c":1.98},{"m":-18.07,"c":1.82},{"m":-17.93,"c":1.66},{"m":-18.58,"c":3.91},{"m":-18.47,"c":5.02},{"m":-18.28,"c":4.71},
      {"m":-18.29,"c":3.81},{"m":-18.27,"c":2.29},{"m":-18.26,"c":4.43},{"m":-18.24,"c":2.92},{"m":-18.22,"c":3.56},{"m":-18.21,"c":1.93},{"m":-18.19,"c":4.07},{"m":-18.17,"c":2.53},{"m":-18.16,"c":3.24},{"m":-18.14,"c":4.61},{"m":-18.12,"c":1.78},{"m":-18.11,"c":2.84},{"m":-18.09,"c":3.97},{"m":-18.07,"c":2.27},{"m":-18.06,"c":4.24},{"m":-18.04,"c":3.08},{"m":-18.03,"c":1.61},{"m":-18.01,"c":3.71},{"m":-17.99,"c":2.43},{"m":-17.98,"c":4.56},{"m":-17.96,"c":3.31},{"m":-17.94,"c":1.87},{"m":-17.93,"c":2.97},{"m":-17.91,"c":4.18},{"m":-17.89,"c":3.62},{"m":-17.87,"c":2.34},{"m":-17.86,"c":1.53},{"m":-17.84,"c":3.16},{"m":-17.82,"c":4.38},{"m":-17.81,"c":2.67},{"m":-17.79,"c":3.88},{"m":-17.77,"c":1.96},{"m":-17.76,"c":2.91},{"m":-17.73,"c":4.13},{"m":-17.71,"c":3.42},{"m":-17.69,"c":2.22},{"m":-17.66,"c":3.71},{"m":-17.64,"c":1.67},{"m":-17.61,"c":2.73},{"m":-17.59,"c":4.27},{"m":-17.56,"c":3.38},{"m":-17.53,"c":1.88},{"m":-17.51,"c":2.96},{"m":-17.47,"c":3.83},{"m":-17.44,"c":2.43},{"m":-17.41,"c":1.58},{"m":-17.37,"c":3.44},{"m":-17.34,"c":2.21},{"m":-17.31,"c":3.97},{"m":-17.29,"c":1.72},
      {"m":-18.38,"c":2.05},{"m":-18.35,"c":3.90},{"m":-18.32,"c":4.50},{"m":-18.30,"c":2.70},{"m":-18.28,"c":3.35},{"m":-18.25,"c":1.85},{"m":-18.22,"c":4.15},{"m":-18.20,"c":2.40},{"m":-18.18,"c":3.70},{"m":-18.15,"c":5.00},{"m":-18.12,"c":2.95},{"m":-18.10,"c":1.70},{"m":-18.08,"c":4.35},{"m":-18.05,"c":3.20},{"m":-18.02,"c":2.55},{"m":-18.00,"c":3.85},{"m":-17.98,"c":1.95},{"m":-17.95,"c":4.70},{"m":-17.92,"c":2.80},{"m":-17.90,"c":3.45},{"m":-17.88,"c":2.20},{"m":-17.85,"c":4.10},{"m":-17.82,"c":1.60},{"m":-17.80,"c":3.00},{"m":-17.78,"c":2.50},{"m":-17.75,"c":3.65},{"m":-17.72,"c":1.85},{"m":-17.70,"c":4.45},{"m":-17.68,"c":2.65},{"m":-17.65,"c":3.25},{"m":-17.62,"c":2.05},{"m":-17.60,"c":3.90},{"m":-17.58,"c":1.45},{"m":-17.55,"c":2.85},{"m":-17.52,"c":3.50},{"m":-17.50,"c":2.30},{"m":-17.48,"c":4.20},{"m":-17.45,"c":1.75},{"m":-17.42,"c":3.10},{"m":-17.40,"c":2.55},{"m":-17.38,"c":3.75},{"m":-17.35,"c":1.95},{"m":-17.32,"c":2.95},{"m":-18.40,"c":5.25},{"m":-18.20,"c":5.15},{"m":-18.00,"c":5.40},{"m":-17.85,"c":5.10},{"m":-17.65,"c":4.85},{"m":-18.33,"c":1.50},{"m":-18.15,"c":1.35},{"m":-17.95,"c":1.25},{"m":-17.75,"c":1.20},{"m":-18.45,"c":1.60},{"m":-18.27,"c":3.05},{"m":-18.13,"c":3.55},{"m":-17.97,"c":2.25},{"m":-17.83,"c":2.40},{"m":-17.67,"c":2.90},{"m":-17.57,"c":2.15},{"m":-17.45,"c":2.70},
      {"m":-17.28,"c":4.05},{"m":-17.25,"c":2.40},{"m":-17.20,"c":3.35},{"m":-17.15,"c":1.85},{"m":-17.12,"c":2.85},{"m":-17.08,"c":4.55},{"m":-17.05,"c":2.20},{"m":-17.00,"c":3.60},{"m":-16.95,"c":1.50},{"m":-16.92,"c":2.60},{"m":-16.88,"c":3.95},{"m":-16.85,"c":2.05},{"m":-16.80,"c":3.15},{"m":-16.75,"c":4.80},{"m":-16.72,"c":1.70},{"m":-16.68,"c":2.75},{"m":-16.62,"c":3.45},{"m":-16.58,"c":2.25},{"m":-16.52,"c":4.20},{"m":-16.48,"c":1.95},{"m":-16.42,"c":3.05},{"m":-16.38,"c":2.55},{"m":-16.30,"c":3.80},{"m":-16.25,"c":1.60},{"m":-16.18,"c":2.95},{"m":-16.10,"c":2.30},{"m":-16.05,"c":4.60},{"m":-15.95,"c":3.40},{"m":-15.90,"c":1.85},{"m":-17.18,"c":5.10},{"m":-16.98,"c":5.30},{"m":-16.65,"c":5.00},{"m":-17.22,"c":1.20},{"m":-16.90,"c":1.15},{"m":-16.55,"c":1.35},
      {"m":-17.71,"c":4.87},{"m":-17.54,"c":3.23},{"m":-17.36,"c":4.41},{"m":-17.17,"c":3.89},{"m":-16.97,"c":2.41},{"m":-16.83,"c":3.71},{"m":-16.66,"c":2.02},{"m":-16.46,"c":3.62},{"m":-16.33,"c":2.09},{"m":-16.14,"c":3.22},{"m":-16.02,"c":2.71},{"m":-15.84,"c":2.48},{"m":-15.71,"c":3.05},{"m":-17.49,"c":1.38},{"m":-17.03,"c":1.31},
      {"m":-18.30,"c":5.65},{"m":-18.10,"c":5.55},{"m":-17.90,"c":5.80},{"m":-18.55,"c":5.60},{"m":-18.75,"c":5.50},{"m":-18.95,"c":5.65},{"m":-17.70,"c":5.45},
      {"m":-22.45,"c":1.60},{"m":-22.30,"c":1.45},{"m":-22.20,"c":1.70},{"m":-22.10,"c":1.55},{"m":-21.95,"c":1.35},{"m":-21.85,"c":1.60},{"m":-21.75,"c":1.20},{"m":-21.65,"c":1.45},{"m":-21.55,"c":1.05},{"m":-21.45,"c":1.30},{"m":-21.35,"c":0.85},{"m":-21.25,"c":1.15},{"m":-21.15,"c":0.95},{"m":-21.05,"c":1.20},{"m":-20.95,"c":0.70},{"m":-20.85,"c":1.05},{"m":-20.75,"c":0.90},{"m":-20.65,"c":1.10},{"m":-20.45,"c":0.80},{"m":-20.35,"c":1.05},{"m":-20.25,"c":0.55},{"m":-20.15,"c":0.95},{"m":-20.05,"c":0.75},{"m":-19.95,"c":1.05},{"m":-19.85,"c":0.60},{"m":-19.75,"c":0.90},{"m":-19.65,"c":0.40},{"m":-19.55,"c":1.00},{"m":-19.45,"c":0.70},{"m":-19.35,"c":0.95},{"m":-19.25,"c":0.50},{"m":-19.15,"c":0.85},{"m":-19.05,"c":1.05},{"m":-18.95,"c":0.65},{"m":-18.85,"c":0.95},{"m":-18.75,"c":0.35},{"m":-18.65,"c":1.10},{"m":-18.55,"c":0.75},{"m":-18.45,"c":1.20},{"m":-18.35,"c":0.55},{"m":-18.25,"c":1.00},{"m":-18.15,"c":0.80},{"m":-17.95,"c":0.95},{"m":-17.85,"c":1.30},{"m":-21.60,"c":0.30},{"m":-21.20,"c":0.10},{"m":-20.90,"c":-0.10},{"m":-20.50,"c":0.25},{"m":-20.10,"c":-0.20},{"m":-19.80,"c":0.15},{"m":-19.40,"c":-0.35},{"m":-19.00,"c":0.10},{"m":-18.70,"c":-0.40},{"m":-21.90,"c":0.70},{"m":-22.40,"c":0.95},{"m":-22.60,"c":1.25},{"m":-20.30,"c":-0.55},{"m":-19.60,"c":-0.80},{"m":-21.40,"c":-0.30},
      {"m":-22.35,"c":1.72},{"m":-22.15,"c":1.62},{"m":-21.98,"c":1.48},{"m":-21.82,"c":1.41},{"m":-21.68,"c":1.33},{"m":-21.52,"c":1.26},{"m":-21.38,"c":1.19},{"m":-21.22,"c":1.24},{"m":-21.08,"c":1.08},{"m":-20.92,"c":1.13},{"m":-20.78,"c":1.02},{"m":-20.62,"c":0.98},{"m":-20.48,"c":1.07},{"m":-20.32,"c":0.92},{"m":-20.18,"c":1.03},{"m":-20.02,"c":0.88},{"m":-19.88,"c":0.99},{"m":-19.72,"c":0.82},{"m":-19.58,"c":0.93},{"m":-19.42,"c":0.86},{"m":-19.28,"c":1.02},{"m":-19.12,"c":0.91},{"m":-18.98,"c":1.09},{"m":-18.82,"c":1.14},{"m":-18.68,"c":1.21},
      {"m":-22.28,"c":1.58},{"m":-22.12,"c":1.47},{"m":-21.93,"c":1.52},{"m":-21.79,"c":1.28},{"m":-21.63,"c":1.37},{"m":-21.47,"c":1.14},{"m":-21.31,"c":1.09},{"m":-21.17,"c":1.17},{"m":-21.02,"c":0.99},{"m":-20.87,"c":1.02},{"m":-20.71,"c":0.94},{"m":-20.57,"c":1.01},{"m":-20.41,"c":0.96},{"m":-20.27,"c":0.83},{"m":-20.12,"c":0.97},{"m":-19.96,"c":0.91},{"m":-19.81,"c":0.86},{"m":-19.67,"c":1.03},{"m":-19.51,"c":0.89},{"m":-19.36,"c":0.79},{"m":-19.21,"c":0.97},{"m":-19.07,"c":0.83},{"m":-18.91,"c":1.02},{"m":-18.77,"c":1.18},{"m":-18.61,"c":1.07},{"m":-18.47,"c":1.32},{"m":-21.72,"c":0.88},{"m":-20.68,"c":0.52},{"m":-19.91,"c":0.38},{"m":-19.17,"c":0.56}
    ],
    "cut": [{"mag": -18}]
  },
  "layer": [
    {
      "data": {"name": "dots"},
      "mark": {"type": "circle", "size": 8, "color": "#2a2a2a", "opacity": 0.85},
      "encoding": {
        "x": {"field": "m", "type": "quantitative", "scale": {"domain": [-24.25, -15.25], "nice": false, "zero": false},
          "axis": {"orient": "bottom", "values": [-24,-23.5,-23,-22.5,-22,-21.5,-21,-20.5,-20,-19.5,-19,-18.5,-18,-17.5,-17,-16.5,-16,-15.5],
            "labelExpr": "datum.value % 2 === 0 ? toString(datum.value) : ''",
            "tickSize": {"condition": {"test": "datum.value % 2 === 0", "value": -21}, "value": -11},
            "labelPadding": 53, "labelFlush": false, "title": "Host Mᵣ Mag", "titleFontSize": 71, "titlePadding": 8}},
        "y": {"field": "c", "type": "quantitative", "scale": {"domain": [-2, 8.5], "nice": false, "zero": false},
          "axis": {"orient": "left", "values": [-2,-1.5,-1,-0.5,0,0.5,1,1.5,2,2.5,3,3.5,4,4.5,5,5.5,6,6.5,7,7.5,8],
            "labelExpr": "datum.value % 2 === 0 ? toString(datum.value) : ''",
            "tickSize": {"condition": {"test": "datum.value % 2 === 0", "value": -28}, "value": -14},
            "labelBaseline": {"condition": {"test": "datum.value === -2", "value": "alphabetic"}, "value": "middle"},
            "labelPadding": 53, "labelFlush": false, "title": "Host (NUV - r)₀.₁", "titlePadding": 42, "titleY": 503}}
      }
    },
    {
      "data": {"name": "contours"},
      "mark": {"type": "line", "stroke": "#1c1c1c", "strokeWidth": 1.6, "strokeJoin": "miter"},
      "encoding": {
        "x": {"field": "m", "type": "quantitative", "axis": null},
        "y": {"field": "c", "type": "quantitative", "axis": null, "scale": {"domain": [-2, 8.5], "nice": false, "zero": false}},
        "detail": {"field": "lev", "type": "nominal"},
        "order": {"field": "k", "type": "quantitative"},
        "fill": {"field": "lev", "type": "ordinal", "legend": null,
          "scale": {"domain": [1,2,3,4,5,6,7,8,9,10,11,12,13,14,15,16,17,18],
            "range": ["#ffffff","#efefef","#e2e2e2","#d5d5d5","#c9c9c9","#bdbdbd","#b0b0b0","#a3a3a3","#969696","#898989","#7c7c7c","#6e6e6e","#606060","#505050","#3e3e3e","#2a2a2a","#b0b0b0","#9e9e9e"]}}
      }
    },
    {
      "data": {"name": "cut"},
      "mark": {"type": "rule", "strokeDash": [22, 14], "color": "#777777", "strokeWidth": 2.5},
      "encoding": {"x": {"field": "mag", "type": "quantitative", "axis": null}}
    },
    {
      "data": {"name": "sn"},
      "transform": [{"filter": "isValid(datum.xlo)"}],
      "mark": {"type": "rule", "color": "#555555", "strokeWidth": 2},
      "encoding": {
        "x": {"field": "xlo", "type": "quantitative", "axis": null},
        "x2": {"field": "xhi"},
        "y": {"field": "c", "type": "quantitative", "axis": null, "scale": {"domain": [-2, 8.5], "nice": false, "zero": false}}
      }
    },
    {
      "data": {"name": "sn"},
      "transform": [{"filter": "isValid(datum.xlo)"}],
      "mark": {"type": "tick", "orient": "vertical", "size": 20, "thickness": 2, "color": "#555555"},
      "encoding": {"x": {"field": "xlo", "type": "quantitative", "axis": null}, "y": {"field": "c", "type": "quantitative", "axis": null, "scale": {"domain": [-2, 8.5], "nice": false, "zero": false}}}
    },
    {
      "data": {"name": "sn"},
      "transform": [{"filter": "isValid(datum.xhi)"}],
      "mark": {"type": "tick", "orient": "vertical", "size": 20, "thickness": 2, "color": "#555555"},
      "encoding": {"x": {"field": "xhi", "type": "quantitative", "axis": null}, "y": {"field": "c", "type": "quantitative", "axis": null, "scale": {"domain": [-2, 8.5], "nice": false, "zero": false}}}
    },
    {
      "data": {"name": "sn"},
      "transform": [{"filter": "isValid(datum.ylo)"}],
      "mark": {"type": "rule", "color": "#555555", "strokeWidth": 2},
      "encoding": {
        "x": {"field": "m", "type": "quantitative", "axis": null},
        "y": {"field": "ylo", "type": "quantitative", "axis": null, "scale": {"domain": [-2, 8.5], "nice": false, "zero": false}},
        "y2": {"field": "yhi"}
      }
    },
    {
      "data": {"name": "sn"},
      "transform": [{"filter": "isValid(datum.ylo)"}],
      "mark": {"type": "tick", "orient": "horizontal", "size": 20, "thickness": 2, "color": "#555555"},
      "encoding": {"x": {"field": "m", "type": "quantitative", "axis": null}, "y": {"field": "ylo", "type": "quantitative", "axis": null, "scale": {"domain": [-2, 8.5], "nice": false, "zero": false}}}
    },
    {
      "data": {"name": "sn"},
      "transform": [{"filter": "isValid(datum.yhi)"}],
      "mark": {"type": "tick", "orient": "horizontal", "size": 20, "thickness": 2, "color": "#555555"},
      "encoding": {"x": {"field": "m", "type": "quantitative", "axis": null}, "y": {"field": "yhi", "type": "quantitative", "axis": null, "scale": {"domain": [-2, 8.5], "nice": false, "zero": false}}}
    },
    {
      "data": {"name": "sn"},
      "mark": {"type": "point", "filled": false, "strokeWidth": 2.5, "opacity": 1},
      "encoding": {
        "x": {"field": "m", "type": "quantitative", "axis": null},
        "y": {"field": "c", "type": "quantitative", "axis": null, "scale": {"domain": [-2, 8.5], "nice": false, "zero": false}},
        "shape": {"field": "type", "type": "nominal",
          "scale": {"domain": ["IIn-lum", "Ic-PP", "Ipec"], "range": ["square", "triangle-up", "diamond"]},
          "legend": {"title": null, "orient": "none", "legendX": 1065, "legendY": 167, "padding": 0,
            "labelFontSize": 65, "labelFont": "Liberation Sans", "labelColor": "black", "labelLimit": 500,
            "symbolSize": 700, "symbolStrokeColor": "black", "symbolStrokeWidth": 2.5, "symbolFillColor": "white",
            "labelOffset": 7, "rowPadding": -6}},
        "size": {"field": "type", "type": "ordinal", "legend": null,
          "scale": {"domain": ["Ipec", "IIn-lum", "Ic-PP"], "range": [1296, 900, 1369]}},
        "stroke": {"condition": {"test": "datum.sn === '08es'", "value": "#e8201a"}, "value": "black"}
      }
    },
    {
      "data": {"name": "sn"},
      "transform": [{"filter": "datum.limx === 'right'"}],
      "mark": {"type": "point", "filled": false, "shape": "M0,-0.35L0,0.35M0,0L2,0M1.45,-0.32L2,0L1.45,0.32", "size": 2209, "stroke": "#e8201a", "strokeWidth": 3, "opacity": 1},
      "encoding": {"x": {"field": "m", "type": "quantitative", "axis": null}, "y": {"field": "c", "type": "quantitative", "axis": null, "scale": {"domain": [-2, 8.5], "nice": false, "zero": false}}}
    },
    {
      "data": {"name": "sn"},
      "transform": [{"filter": "datum.limy === 'up'"}],
      "mark": {"type": "point", "filled": false, "shape": "M-0.35,0L0.35,0M0,0L0,-2M-0.32,-1.45L0,-2L0.32,-1.45", "size": 2209, "stroke": "#e8201a", "strokeWidth": 3, "opacity": 1},
      "encoding": {"x": {"field": "m", "type": "quantitative", "axis": null}, "y": {"field": "c", "type": "quantitative", "axis": null, "scale": {"domain": [-2, 8.5], "nice": false, "zero": false}}}
    },
    {
      "data": {"name": "sn"},
      "transform": [{"filter": "datum.limy === 'down'"}],
      "mark": {"type": "point", "filled": false, "shape": "M-0.35,0L0.35,0M0,0L0,2M-0.32,1.45L0,2L0.32,1.45", "size": 2209, "stroke": "#e8201a", "strokeWidth": 3, "opacity": 1},
      "encoding": {"x": {"field": "m", "type": "quantitative", "axis": null}, "y": {"field": "c", "type": "quantitative", "axis": null, "scale": {"domain": [-2, 8.5], "nice": false, "zero": false}}}
    },
    {
      "data": {"name": "sn"},
      "transform": [{"filter": "datum.pos === 'above'"}],
      "mark": {"type": "text", "font": "Liberation Sans", "fontSize": 42, "color": "black", "dx": -6, "dy": -37},
      "encoding": {"x": {"field": "m", "type": "quantitative", "axis": null}, "y": {"field": "c", "type": "quantitative", "axis": null, "scale": {"domain": [-2, 8.5], "nice": false, "zero": false}}, "text": {"field": "sn"}}
    },
    {
      "data": {"name": "sn"},
      "transform": [{"filter": "datum.pos === 'below'"}],
      "mark": {"type": "text", "font": "Liberation Sans", "fontSize": 42, "color": "black", "dx": -5, "dy": 37},
      "encoding": {"x": {"field": "m", "type": "quantitative", "axis": null}, "y": {"field": "c", "type": "quantitative", "axis": null, "scale": {"domain": [-2, 8.5], "nice": false, "zero": false}}, "text": {"field": "sn"}}
    },
    {
      "data": {"name": "sn"},
      "transform": [{"filter": "datum.pos === 'aboveright'"}],
      "mark": {"type": "text", "font": "Liberation Sans", "fontSize": 42, "color": "black", "dx": 61, "dy": -37},
      "encoding": {"x": {"field": "m", "type": "quantitative", "axis": null}, "y": {"field": "c", "type": "quantitative", "axis": null, "scale": {"domain": [-2, 8.5], "nice": false, "zero": false}}, "text": {"field": "sn"}}
    },
    {
      "data": {"name": "hist"},
      "mark": {"type": "line", "interpolate": "step-after", "color": "#4c4cd8", "strokeWidth": 2},
      "encoding": {
        "x": {"field": "mag", "type": "quantitative", "scale": {"domain": [-24.25, -15.25], "nice": false, "zero": false},
          "axis": {"orient": "top", "values": [-24,-23.5,-23,-22.5,-22,-21.5,-21,-20.5,-20,-19.5,-19,-18.5,-18,-17.5,-17,-16.5,-16,-15.5],
            "labels": false, "title": null,
            "tickSize": {"condition": {"test": "datum.value % 2 === 0", "value": -21}, "value": -11}}},
        "y": {"field": "n", "type": "quantitative", "scale": {"domain": [0, 10.5], "nice": false, "zero": false},
          "axis": {"orient": "right", "values": [0,0.5,1,1.5,2,2.5,3,3.5,4,4.5,5,5.5,6,6.5,7,7.5,8,8.5,9,9.5,10],
            "labelExpr": "datum.value % 2 === 0 ? toString(datum.value) : ''",
            "tickSize": {"condition": {"test": "datum.value % 2 === 0", "value": -28}, "value": -14},
            "labelBaseline": {"condition": {"test": "datum.value === 0", "value": "alphabetic"}, "value": "middle"},
            "labelPadding": 53, "labelFlush": false, "title": "N CC Hosts", "titleFontSize": 75, "titleAngle": 270, "titleBaseline": "top", "titlePadding": -6}}
      }
    }
  ],
  "resolve": {"scale": {"y": "independent"}, "axis": {"x": "independent", "y": "independent"}}
}
